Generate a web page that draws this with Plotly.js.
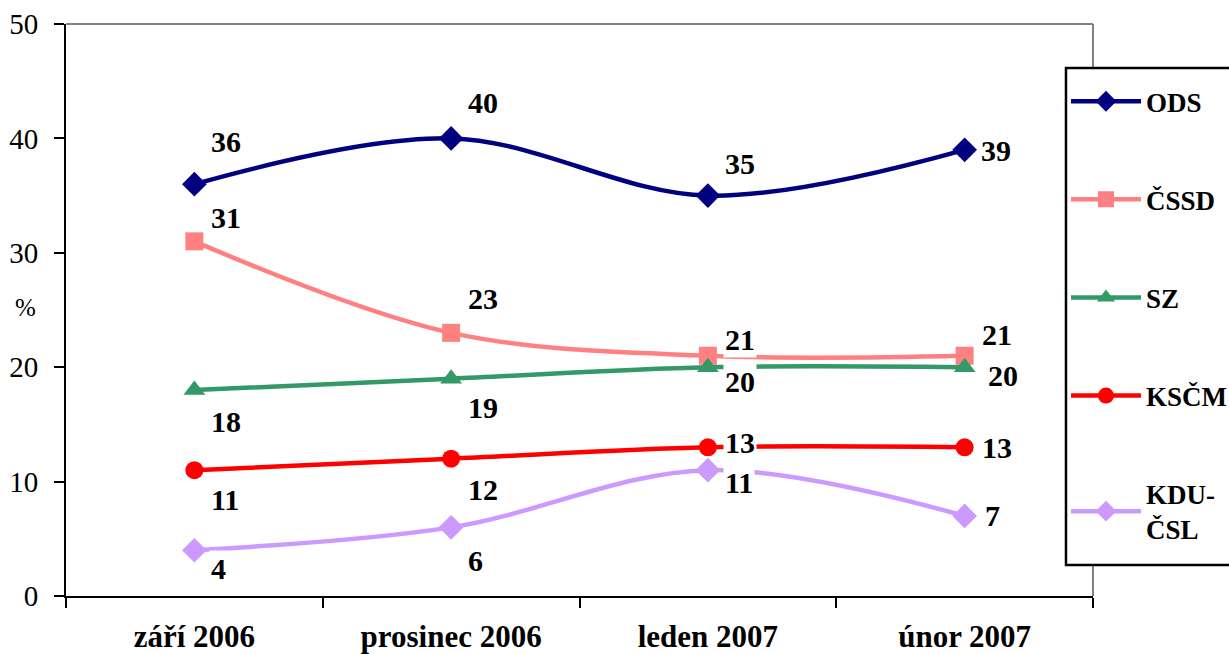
<!DOCTYPE html>
<html>
<head>
<meta charset="utf-8">
<script src="https://cdn.plot.ly/plotly-3.0.1.min.js"></script>
<style>html,body{margin:0;padding:0;background:#fff;}#chart{width:1229px;height:654px;}</style>
</head>
<body>
<div id="chart"></div>
<script>
var categories = ['září 2006', 'prosinec 2006', 'leden 2007', 'únor 2007'];
var seriesNames = ['ODS', 'ČSSD', 'SZ', 'KSČM', 'KDU-<br>ČSL'];
var ods  = [36, 40, 35, 39];
var cssd = [31, 23, 21, 21];
var sz   = [18, 19, 20, 20];
var kscm = [11, 12, 13, 13];
var kdu  = [4, 6, 11, 7];
var yTicks = [0, 10, 20, 30, 40, 50];

// styles
var colors  = ['#000080', '#FF8080', '#339966', '#FF0000', '#CC99FF'];
var symbols = ['diamond', 'square', 'triangle-up', 'circle', 'diamond'];
var msizes  = [19, 18, 19, 18, 19];
// label offsets (px): vertical, screen-down positive; horizontal from point
var labelDy = [[-43, -36, -32, 1], [-24, -34, -16, -21], [31, 29, 14, 8], [29, 31, -5, 0], [18, 33, 12, 0]];
var labelDx = [[15, 15, 15, 14], [15, 15, 15, 15], [15, 15, 15, 21], [15, 15, 15, 15], [15, 15, 15, 18]];

var allSeries = [ods, cssd, sz, kscm, kdu];
var serif = 'Liberation Serif, Times New Roman, serif';

var traces = allSeries.map(function (vals, i) {
  return {
    x: categories, y: vals, name: seriesNames[i], type: 'scatter', mode: 'lines+markers',
    line: {color: colors[i], width: 4.5, shape: 'spline', smoothing: 1},
    marker: {symbol: symbols[i], size: msizes[i], color: colors[i]},
    legendgroup: 'g' + i
  };
});

var annotations = [];
allSeries.forEach(function (vals, i) {
  vals.forEach(function (v, j) {
    annotations.push({
      x: categories[j], y: v, xref: 'x', yref: 'y', text: String(v), showarrow: false,
      xanchor: 'left', yanchor: 'middle', xshift: labelDx[i][j], yshift: -labelDy[i][j],
      bgcolor: '#ffffff', borderpad: 1,
      font: {family: serif, size: 30, color: '#000', weight: 'bold'}
    });
  });
});
annotations.push({
  xref: 'paper', yref: 'paper', x: -0.027, y: 0.505, text: '%', showarrow: false,
  xanchor: 'right', yanchor: 'middle', font: {family: serif, size: 25, color: '#000'}
});

var layout = {
  width: 1229, height: 654,
  margin: {l: 66, r: 136, t: 24, b: 58, autoexpand: false},
  paper_bgcolor: '#fff', plot_bgcolor: '#fff',
  showlegend: true,
  xaxis: {
    type: 'category', range: [-0.5, 3.5], tickson: 'boundaries',
    ticks: 'outside', ticklen: 10, tickwidth: 2, tickcolor: '#000',
    showline: true, linecolor: '#000', linewidth: 2, showgrid: false, zeroline: false,
    tickfont: {family: serif, size: 31, color: '#000', weight: 'bold'},
    ticklabelstandoff: 12
  },
  yaxis: {
    range: [0, 50], tickvals: yTicks, ticks: 'outside', ticklen: 10, tickwidth: 2, tickcolor: '#000',
    showline: true, linecolor: '#000', linewidth: 2, showgrid: false, zeroline: false,
    tickfont: {family: serif, size: 29, color: '#000'},
    ticklabelstandoff: 10
  },
  legend: {
    x: 0.9737, y: 0.907, xanchor: 'left', yanchor: 'top',
    bgcolor: 'rgba(0,0,0,0)', borderwidth: 0,
    font: {family: serif, size: 27, color: '#000', weight: 'bold'},
    traceorder: 'grouped', tracegroupgap: 60, itemwidth: 70,
    itemclick: false
  },
  shapes: [
    {type: 'line', xref: 'paper', yref: 'paper', x0: 0, x1: 1, y0: 1, y1: 1, line: {color: '#808080', width: 2}, layer: 'below'},
    {type: 'line', xref: 'paper', yref: 'paper', x0: 1, x1: 1, y0: 0, y1: 1, line: {color: '#808080', width: 2}, layer: 'below'},
    {type: 'rect', xref: 'paper', yref: 'paper', x0: 0.9737, x1: 1.2, y0: 0.0542, y1: 0.923, fillcolor: '#fff', line: {color: '#000', width: 2.5}, layer: 'above'}
  ],
  annotations: annotations
};

Plotly.newPlot('chart', traces, layout, {displayModeBar: false, staticPlot: true});
</script>
</body>
</html>
